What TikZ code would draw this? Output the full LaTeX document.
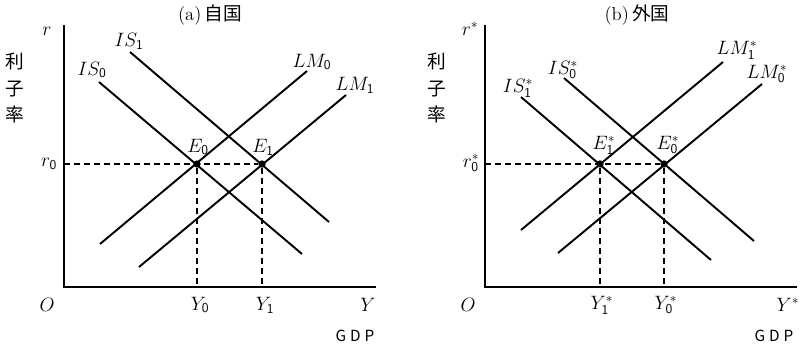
\RequirePackage{fix-cm}
\documentclass[tikz,border=0pt]{standalone}
\usepackage{fontspec}
\newfontfamily\jp{Noto Sans CJK JP}
\newcommand{\sub}[1]{\mathsf{#1}}
\begin{document}
\begin{tikzpicture}[x=0.75pt,y=-0.75pt,
  every node/.style={inner sep=0pt,font=\fontsize{14.5}{17}\selectfont},
  axisline/.style={line width=1.9pt},
  curve/.style={line width=1.45pt},
  guide/.style={line width=1.4pt,dash pattern=on 4.5pt off 3pt},
  eqdot/.style={circle,fill=black,minimum size=5.5pt,inner sep=0pt},
  jlabel/.style={font=\jp\fontsize{14}{20}\selectfont,align=center},
  titlestyle/.style={font=\fontsize{14}{16}\selectfont},
  gdp/.style={font=\jp\fontsize{11.5}{13}\selectfont}]
\useasboundingbox (0,0) rectangle (805,347);
% ---------- panel (a)
\coordinate (oa) at (64,287);
\coordinate (ya) at (64,25);
\coordinate (xa) at (376,287);
\coordinate (is0s) at (99,82);   \coordinate (is0e) at (302,254);
\coordinate (is1s) at (130,52);  \coordinate (is1e) at (329,222);
\coordinate (lm0s) at (100,244); \coordinate (lm0e) at (307,71);
\coordinate (lm1s) at (139,267); \coordinate (lm1e) at (346,95);
\node[eqdot] (e0) at (197,164) {};
\node[eqdot] (e1) at (262,164) {};
\draw[guide] (oa |- e0) -- (e1);
\draw[guide] (e0) -- (e0 |- oa);
\draw[guide] (e1) -- (e1 |- oa);
\draw[curve] (is0s) -- (is0e);
\draw[curve] (is1s) -- (is1e);
\draw[curve] (lm0s) -- (lm0e);
\draw[curve] (lm1s) -- (lm1e);
\draw[axisline] (ya) -- (oa) -- (xa);
\node[titlestyle] (ta) at (210,15) {(a)\,{\jp 自国}};
\node[jlabel] (ja) at (15,88) {利\\子\\率};
\node (ra) at (47,31) {$r$};
\node (ris1) at (129,41) {$IS_{\sub1}$};
\node (ris0) at (92,70) {$IS_{\sub0}$};
\node (rlm0) at (312,62) {$LM_{\sub0}$};
\node (rlm1) at (355,85) {$LM_{\sub1}$};
\node (le0) at (198,147) {$E_{\sub0}$};
\node (le1) at (263,147) {$E_{\sub1}$};
\node (lr0) at (49,164) {$r_{\sub0}$};
\node (lo) at (47,305) {$O$};
\node (ly0) at (200,305) {$Y_{\sub0}$};
\node (ly1) at (265,305) {$Y_{\sub1}$};
\node (ly) at (368,305) {$Y$};
\node[gdp] (ga) at (355,336) {G\hspace{3pt}D\hspace{3pt}P};
% ---------- panel (b)
\coordinate (ob) at (485,287);
\coordinate (yb) at (485,25);
\coordinate (xb) at (797,287);
\coordinate (js1s) at (521,97);  \coordinate (js1e) at (711,260);
\coordinate (js0s) at (564,78);  \coordinate (js0e) at (754,241);
\coordinate (mm1s) at (521,230); \coordinate (mm1e) at (723,62);
\coordinate (mm0s) at (558,253); \coordinate (mm0e) at (762,84);
\node[eqdot] (f1) at (600,164) {};
\node[eqdot] (f0) at (664,164) {};
\draw[guide] (ob |- f1) -- (f0);
\draw[guide] (f1) -- (f1 |- ob);
\draw[guide] (f0) -- (f0 |- ob);
\draw[curve] (js1s) -- (js1e);
\draw[curve] (js0s) -- (js0e);
\draw[curve] (mm1s) -- (mm1e);
\draw[curve] (mm0s) -- (mm0e);
\draw[axisline] (yb) -- (ob) -- (xb);
\node[titlestyle] (tb) at (637,15) {(b)\,{\jp 外国}};
\node[jlabel] (jb) at (437,88) {利\\子\\率};
\node (rb) at (470,29) {$r^*$};
\node (sis0) at (563,70) {$IS^*_{\sub0}$};
\node (sis1) at (518,88) {$IS^*_{\sub1}$};
\node (slm1) at (737,50) {$LM^*_{\sub1}$};
\node (slm0) at (767,74) {$LM^*_{\sub0}$};
\node (lf1) at (604,145) {$E^*_{\sub1}$};
\node (lf0) at (668,145) {$E^*_{\sub0}$};
\node (lr0b) at (471,163) {$r^*_{\sub0}$};
\node (lob) at (468,305) {$O$};
\node (lz1) at (602,305) {$Y^*_{\sub1}$};
\node (lz0) at (666,305) {$Y^*_{\sub0}$};
\node (lyb) at (788,305) {$Y^*$};
\node[gdp] (gb) at (774,336) {G\hspace{3pt}D\hspace{3pt}P};
\end{tikzpicture}
\end{document}
